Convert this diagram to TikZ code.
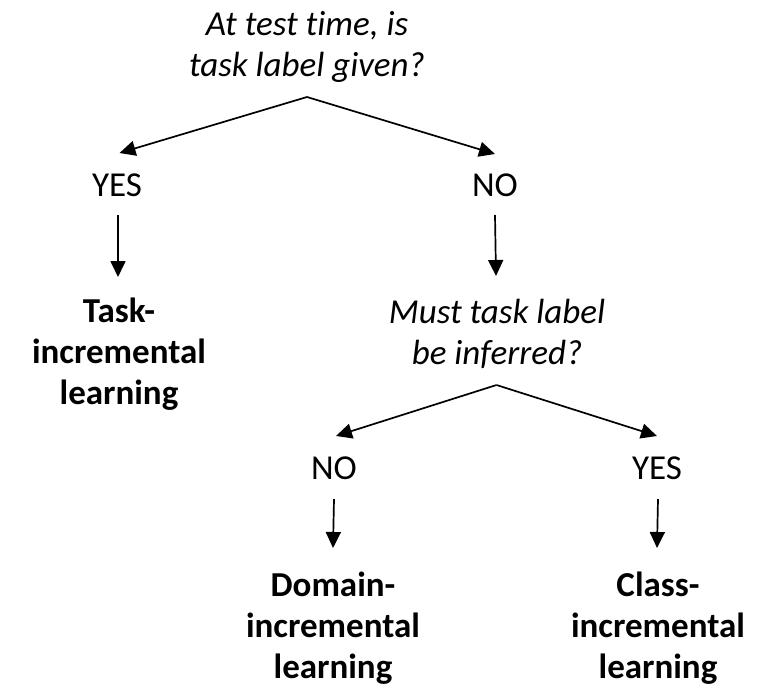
\documentclass[tikz,border=0pt]{standalone}
\usepackage{fontspec}
\setmainfont[Ligatures=NoCommon]{Carlito}
\usetikzlibrary{arrows.meta}

\begin{document}
\begin{tikzpicture}[x=1pt,y=-1pt,
    question/.style={align=center, inner sep=0pt, font=\fontsize{35}{41}\selectfont\itshape},
    answer/.style={inner sep=0pt, anchor=base, font=\fontsize{35}{41}\selectfont},
    outcome/.style={align=center, inner sep=0pt, font=\fontsize{35}{41}\selectfont\bfseries},
    arr/.style={line width=1.7pt, -{Triangle[length=16pt,width=15pt]}}]
  \useasboundingbox (0,0) rectangle (771,683);

  % first decision
  \node[question] (q1) at (307,47) {At test time, is\\task label given?};
  \node[answer] (yes1) at (117,196) {YES};
  \node[answer] (no1) at (495,196) {NO};
  \node[outcome] (task) at (119,354) {Task-\\incremental\\learning};

  % second decision
  \node[question] (q2) at (497,334) {Must task label\\be inferred?};
  \node[answer] (no2) at (334,479) {NO};
  \node[answer] (yes2) at (657,479) {YES};
  \node[outcome] (domain) at (333,628) {Domain-\\incremental\\learning};
  \node[outcome] (class) at (658,628) {Class-\\incremental\\learning};

  % arrow end points
  \coordinate (q1fork) at (307,97);
  \coordinate (yes1in) at (119.5,153);
  \coordinate (no1in) at (495,154);
  \coordinate (yes1out) at (118,215);
  \coordinate (taskin) at (118,277);
  \coordinate (no1out) at (495,215);
  \coordinate (q2in) at (496,276);
  \coordinate (q2fork) at (496.5,385);
  \coordinate (no2in) at (336,436);
  \coordinate (yes2in) at (657,436);
  \coordinate (no2out) at (334,499);
  \coordinate (domainin) at (333,548);
  \coordinate (yes2out) at (658,499);
  \coordinate (classin) at (657,548);

  \draw[arr] (q1fork) -- (yes1in);
  \draw[arr] (q1fork) -- (no1in);
  \draw[arr] (yes1out) -- (taskin);
  \draw[arr] (no1out) -- (q2in);
  \draw[arr] (q2fork) -- (no2in);
  \draw[arr] (q2fork) -- (yes2in);
  \draw[arr] (no2out) -- (domainin);
  \draw[arr] (yes2out) -- (classin);
\end{tikzpicture}
\end{document}
